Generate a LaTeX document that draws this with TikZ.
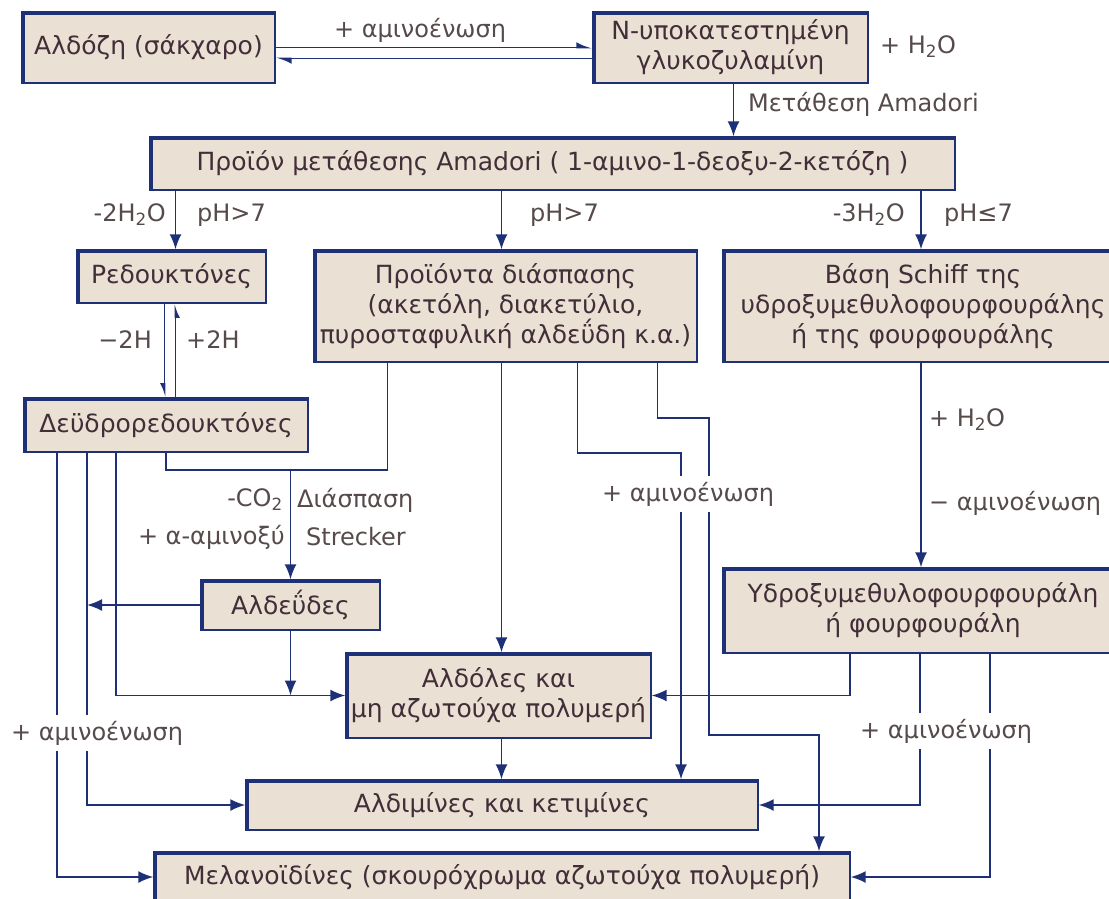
\documentclass[tikz,border=0pt]{standalone}
\usepackage{fontspec}
\setmainfont{DejaVu Sans}
\usetikzlibrary{arrows.meta}
\definecolor{boxline}{RGB}{30,48,118}
\definecolor{boxfill}{RGB}{234,224,211}
\definecolor{boxtext}{RGB}{66,46,56}
\definecolor{labtext}{RGB}{86,74,74}
\newcommand*{\water}{H\textsubscript{2}O}
\newcommand*{\amino}{αμινοένωση}

\begin{document}
\begin{tikzpicture}[x=1pt, y=-1pt,
    box/.style={draw=boxline, fill=boxfill, text=boxtext, line width=1.4pt,
      inner sep=2pt, align=center, font=\fontsize{25}{30}\selectfont,
      path picture={\draw[boxline, line width=5.5pt]
        (path picture bounding box.south west) --
        (path picture bounding box.north west) --
        (path picture bounding box.north east);}},
    lab/.style={text=labtext, inner sep=1pt, font=\fontsize{24}{28}\selectfont},
    gap/.style={lab, fill=white, inner ysep=6pt},
    conn/.style={boxline, line width=1.7pt},
    arr/.style={conn, -{Latex[length=15pt,width=12pt]}},
    harpl/.style={conn, -{Latex[length=13pt,width=11pt,left]}},
    harpr/.style={conn, -{Latex[length=11pt,width=9pt,right]}}]
  \path[use as bounding box, clip] (0,0) rectangle (1109,898);

  \node[box, minimum width=253, minimum height=71] (ald) at (148.5,47.5) {Αλδόζη (σάκχαρο)};
  \node[box, minimum width=275, minimum height=71] (gly) at (730.5,47.5)
    {N-υποκατεστημένη\\γλυκοζυλαμίνη};
  \node[box, minimum width=805, minimum height=53] (amd) at (552.5,163.5)
    {Προϊόν μετάθεσης Amadori ( 1-αμινο-1-δεοξυ-2-κετόζη )};
  \node[box, minimum width=189, minimum height=53] (red) at (171.5,276.5) {Ρεδουκτόνες};
  \node[box, minimum width=383, minimum height=112] (fis) at (505.5,306)
    {Προϊόντα διάσπασης\\(ακετόλη, διακετύλιο,\\πυροσταφυλική αλδεΰδη κ.α.)};
  \node[box, minimum width=400, minimum height=112] (sch) at (923,306)
    {Βάση Schiff της\\υδροξυμεθυλοφουρφουράλης\\ή της φουρφουράλης};
  \node[box, minimum width=284, minimum height=54] (dhr) at (166,425) {Δεϋδρορεδουκτόνες};
  \node[box, minimum width=400, minimum height=85] (hmf) at (923,610.5)
    {Υδροξυμεθυλοφουρφουράλη\\ή φουρφουράλη};
  \node[box, minimum width=179, minimum height=50] (aldh) at (290.5,605) {Αλδεΰδες};
  \node[box, minimum width=305, minimum height=85] (aldl) at (498.5,695.5)
    {Αλδόλες και\\μη αζωτούχα πολυμερή};
  \node[box, minimum width=512, minimum height=50] (aldm) at (502,805)
    {Αλδιμίνες και κετιμίνες};
  \node[box, minimum width=696, minimum height=50] (mel) at (502,877)
    {Μελανοϊδίνες (σκουρόχρωμα αζωτούχα πολυμερή)};

  \draw[harpl] (ald.east) -- (gly.west);
  \draw[harpl] ([yshift=-11]gly.west) -- ([yshift=-11]ald.east);
  \node[lab] (l1) at (420,30) {+ \amino};
  \node[lab] (l2) at (918,47) {+ \water};
  \draw[arr] ([xshift=3]gly.south) -- ([xshift=3]gly.south |- amd.north);
  \node[lab, anchor=west] (l3) at (747,104) {Μετάθεση Amadori};

  \foreach \n/\s in {red/4,fis/-4,sch/-2}{
    \draw[arr] ([xshift=\s]\n.north |- amd.south) -- ([xshift=\s]\n.north);
  }
  \node[lab, anchor=east] at (167,215) {-2\water};
  \node[lab, anchor=west] at (196,215) {pH>7};
  \node[lab, anchor=west] at (529,215) {pH>7};
  \node[lab, anchor=east] at (906,215) {-3\water};
  \node[lab, anchor=west] at (943,215) {pH≤7};

  \draw[harpr] ([xshift=-7]red.south) -- ([xshift=-7]red.south |- dhr.north);
  \draw[harpr] ([xshift=4]red.south |- dhr.north) -- ([xshift=4]red.south);
  \node[lab, anchor=east] at (153,340) {−2H};
  \node[lab, anchor=west] at (185,340) {+2H};

  \draw[arr] ([xshift=-2]sch.south) -- ([xshift=-2]hmf.north);
  \node[lab, anchor=west] at (928,420) {+ \water};
  \node[lab, anchor=west] at (928,503) {− \amino};

  \coordinate (dA) at ([xshift=-109]dhr.south);
  \coordinate (dB) at ([xshift=-79]dhr.south);
  \coordinate (dC) at ([xshift=-50]dhr.south);
  \coordinate (strk) at (aldh.north |- 0,470);
  \draw[arr] (dA) |- (mel.west);
  \draw[arr] (dB) |- (aldm.west);
  \draw[arr] (dC) |- (aldl.west);
  \draw[conn] (dhr.south) |- (strk) -| ([xshift=-118]fis.south);
  \draw[arr] (strk) -- (aldh.north);
  \node[lab, anchor=east] at (284,500) {-CO\textsubscript{2}};
  \node[lab, anchor=east] at (286,537) {+ α-αμινοξύ};
  \node[lab, anchor=west] at (296,500) {Διάσπαση};
  \node[lab, anchor=west] at (305,537) {Strecker};
  \draw[arr] (aldh.west) -- (aldh.west -| dB);
  \draw[arr] (aldh.south) -- (aldh.south |- aldl.west);

  \coordinate (m1) at (681,453);
  \coordinate (m2) at (709,418);
  \coordinate (m3) at (819,735);
  \draw[arr] ([xshift=-4]fis.south) -- ([xshift=-4]fis.south |- aldl.north);
  \draw[arr] ([xshift=72]fis.south) |- (m1) -- (m1 |- aldm.north);
  \draw[arr] ([xshift=152]fis.south) |- (m2) |- (m3) -- (m3 |- mel.north);
  \draw[arr] ([xshift=3]aldl.south) -- ([xshift=3]aldl.south |- aldm.north);

  \draw[arr] ([xshift=-73]hmf.south) |- (aldl.east);
  \draw[arr] ([xshift=-3]hmf.south) |- (aldm.east);
  \draw[arr] ([xshift=67]hmf.south) |- (mel.east);

  \node[gap, anchor=west] at (10,733) {+ \amino};
  \node[gap, anchor=west] at (601,494) {+ \amino};
  \node[gap, anchor=west] at (859,731) {+ \amino};
\end{tikzpicture}
\end{document}
